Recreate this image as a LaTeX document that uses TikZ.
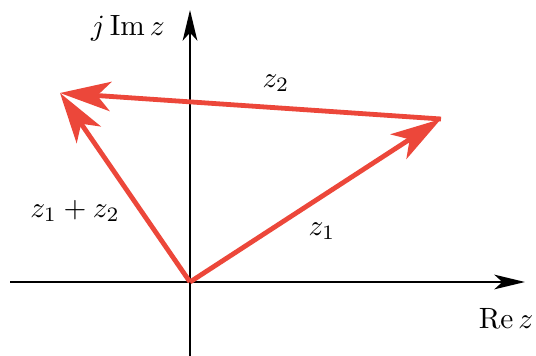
\documentclass[tikz,border=0pt]{standalone}
\usetikzlibrary{arrows.meta}
\definecolor{vred}{RGB}{236,71,58}
\newcommand{\biglab}[1]{\scalebox{2.2}{#1}}
\begin{document}
\begin{tikzpicture}[x=0.75pt,y=-0.75pt,
  axis/.style={line width=1.5pt,-{Stealth[length=23pt,width=11pt,inset=6pt]}},
  vec/.style={vred,line width=3.6pt,-{Stealth[length=38pt,width=22pt,inset=10pt]}},
  lab/.style={inner sep=0pt}]
\useasboundingbox (0,0) rectangle (536,356);
\coordinate (xl) at (10,282);
\coordinate (xr) at (525,282);
\coordinate (yb) at (190,356);
\coordinate (yt) at (190,10);
\coordinate (O) at (190,282);
\coordinate (A) at (441,119);
\coordinate (B) at (60,93);
\draw[axis] (xl) -- (xr);
\draw[axis] (yb) -- (yt);
\draw[vec] (O) -- (A);
\draw[vec] (A) -- (B);
\draw[vec] (O) -- (B);
\node[lab] (im) at (128,28) {\biglab{$j\,\mathrm{Im}\,z$}};
\node[lab] (re) at (506,318) {\biglab{$\mathrm{Re}\,z$}};
\node[lab] (l2) at (276,83) {\biglab{$z_2$}};
\node[lab] (l12) at (75,211) {\biglab{$z_1+z_2$}};
\node[lab] (l1) at (322,231) {\biglab{$z_1$}};
\end{tikzpicture}
\end{document}
